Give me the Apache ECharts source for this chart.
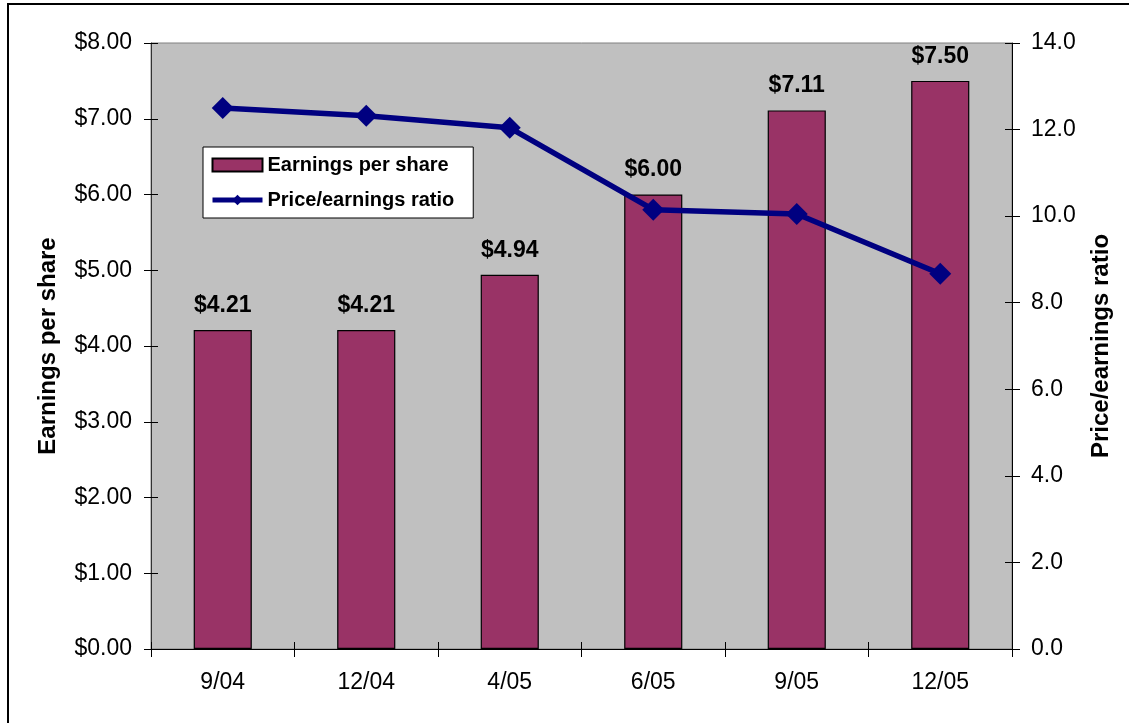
<!DOCTYPE html>
<html>
<head>
<meta charset="utf-8">
<script src="https://cdn.jsdelivr.net/npm/echarts@6/dist/echarts.min.js"></script>
<style>
html,body{margin:0;padding:0;background:#fff;}
#main{width:1129px;height:723px;}
</style>
</head>
<body>
<div id="main"></div>
<script>
const categories = ['9/04', '12/04', '4/05', '6/05', '9/05', '12/05'];
const earningsPerShare = [4.21, 4.21, 4.94, 6.00, 7.11, 7.50];
const peRatio = [12.5, 12.32, 12.04, 10.15, 10.05, 8.67];
const leftTicks = { min: 0, max: 8, interval: 1 };
const rightTicks = { min: 0, max: 14, interval: 2 };

const FONT = 'Liberation Sans, Arial, sans-serif';
const chart = echarts.init(document.getElementById('main'));

chart.setOption({
  animation: false,
  backgroundColor: '#fff',
  textStyle: { fontFamily: FONT },
  graphic: [{
    type: 'rect', silent: true, z: 100,
    shape: { x: 8, y: 4, width: 1300, height: 900 },
    style: { fill: 'none', stroke: '#000', lineWidth: 2 }
  }],
  grid: {
    left: 151, top: 43, right: 117, bottom: 74,
    show: true, backgroundColor: '#c0c0c0', borderColor: '#808080', borderWidth: 1
  },
  legend: {
    orient: 'vertical', left: 203, top: 147,
    backgroundColor: '#fff', borderColor: '#000', borderWidth: 1,
    padding: [8, 19, 8, 7], itemGap: 15,
    itemWidth: 50, itemHeight: 13,
    textStyle: { fontFamily: FONT, fontSize: 20, fontWeight: 'bold', color: '#000' },
    data: [
      { name: 'Earnings per share', icon: 'rect' },
      { name: 'Price/earnings ratio', lineStyle: { width: 5 } }
    ]
  },
  xAxis: [{
    type: 'category', data: categories, position: 'bottom',
    axisLine: { lineStyle: { color: '#000', width: 1 } },
    axisTick: { show: true, length: 8, lineStyle: { color: '#000' } },
    axisLabel: { fontSize: 23, color: '#000', margin: 22, fontFamily: FONT },
    splitLine: { show: false }
  }, {
    type: 'category', data: categories, position: 'bottom', z: 5,
    axisLine: { show: false },
    axisTick: { show: true, inside: true, length: 7, lineStyle: { color: '#000', width: 1 } },
    axisLabel: { show: false }, splitLine: { show: false }
  }],
  yAxis: [{
    type: 'value', position: 'left',
    min: leftTicks.min, max: leftTicks.max, interval: leftTicks.interval,
    name: 'Earnings per share', nameLocation: 'middle', nameGap: 91,
    nameTextStyle: { fontSize: 24, fontWeight: 'bold', color: '#000', fontFamily: FONT },
    axisLine: { show: true, lineStyle: { color: '#333' } },
    axisTick: { show: true, length: 7, lineStyle: { color: '#000' } },
    axisLabel: { fontSize: 23, color: '#000', margin: 19, fontFamily: FONT,
      formatter: v => '$' + v.toFixed(2) },
    splitLine: { show: false }
  }, {
    type: 'value', position: 'right',
    min: rightTicks.min, max: rightTicks.max, interval: rightTicks.interval,
    name: 'Price/earnings ratio', nameLocation: 'middle', nameGap: 77,
    nameTextStyle: { fontSize: 24, fontWeight: 'bold', color: '#000', fontFamily: FONT },
    axisLine: { show: true, lineStyle: { color: '#000' } },
    axisTick: { show: true, length: 8, lineStyle: { color: '#000' } },
    axisLabel: { fontSize: 23, color: '#000', margin: 19, fontFamily: FONT,
      formatter: v => v.toFixed(1) },
    splitLine: { show: false }
  }, {
    type: 'value', position: 'left', z: 5,
    min: leftTicks.min, max: leftTicks.max, interval: leftTicks.interval,
    axisLine: { show: false },
    axisTick: { show: true, inside: true, length: 7, lineStyle: { color: '#000', width: 1 } },
    axisLabel: { show: false }, splitLine: { show: false }
  }, {
    type: 'value', position: 'right', z: 5,
    min: rightTicks.min, max: rightTicks.max, interval: rightTicks.interval,
    axisLine: { show: false },
    axisTick: { show: true, inside: true, length: 7, lineStyle: { color: '#000', width: 1 } },
    axisLabel: { show: false }, splitLine: { show: false }
  }],
  series: [{
    name: 'Earnings per share', type: 'bar', xAxisIndex: 0, yAxisIndex: 0,
    data: earningsPerShare, barWidth: '40.5%',
    itemStyle: { color: '#993366', borderColor: '#000', borderWidth: 1.2 },
    label: { show: true, position: 'top', distance: 13, fontSize: 23, fontWeight: 'bold',
      color: '#000', fontFamily: FONT, formatter: p => '$' + p.value.toFixed(2) },
    z: 2
  }, {
    name: 'Price/earnings ratio', type: 'line', xAxisIndex: 0, yAxisIndex: 1,
    data: peRatio, symbol: 'diamond', symbolSize: 22,
    lineStyle: { color: '#000080', width: 5.5 },
    itemStyle: { color: '#000080' },
    z: 3
  }, {
    name: 'tickHelperLeft', type: 'line', xAxisIndex: 1, yAxisIndex: 2,
    data: earningsPerShare, showSymbol: false, silent: true,
    lineStyle: { opacity: 0 }, itemStyle: { opacity: 0 }, tooltip: { show: false }
  }, {
    name: 'tickHelperRight', type: 'line', xAxisIndex: 1, yAxisIndex: 3,
    data: peRatio, showSymbol: false, silent: true,
    lineStyle: { opacity: 0 }, itemStyle: { opacity: 0 }, tooltip: { show: false }
  }]
});
</script>
</body>
</html>
